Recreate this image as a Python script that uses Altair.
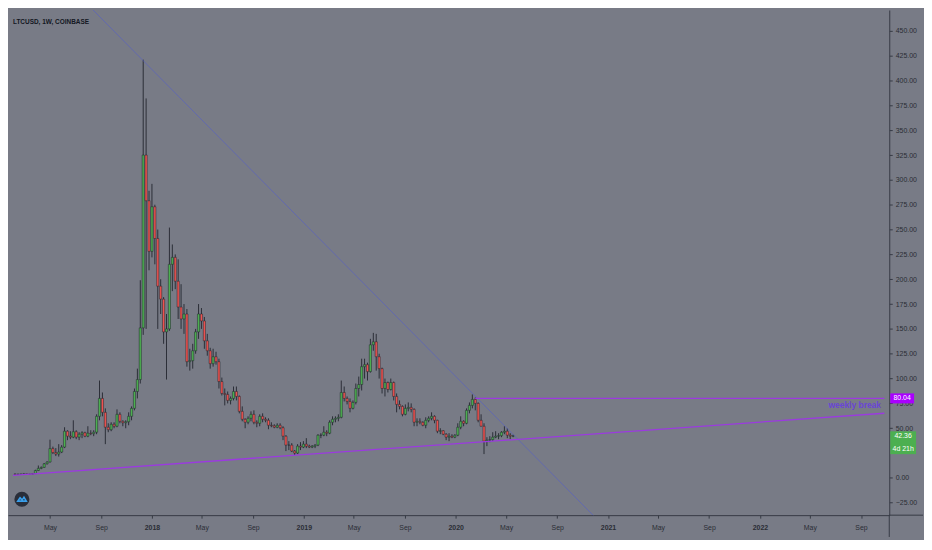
import altair as alt
import pandas as pd

# ---------------- data (weekly LTCUSD candles, Coinbase) ----------------
first_week = "2017-02-06"
opens = [3.9,3.8,3.7,3.9,4.0,3.8,3.8,4.3,7.4,9.6,10.6,14.2,
         16.0,29.5,25.5,24.0,26.0,31.0,47.0,42.0,41.0,46.5,41.0,44.0,
         45.5,42.0,45.0,44.5,46.0,62.0,80.0,66.0,51.0,48.5,54.0,52.0,
         64.0,57.0,55.5,56.5,62.0,70.0,87.0,99.0,151.0,325.0,279.0,228.0,
         273.0,241.0,193.0,180.0,147.0,150.0,215.0,222.0,198.0,172.0,160.0,165.0,
         117.0,118.0,128.0,147.0,165.0,158.0,138.0,128.0,115.0,122.0,117.0,97.0,
         85.0,84.0,78.0,80.0,87.0,82.0,67.0,59.0,56.0,60.0,64.0,56.0,
         55.0,62.0,59.0,58.0,53.0,52.5,51.0,53.0,50.5,42.0,33.0,33.0,
         27.0,25.0,32.0,31.0,34.0,32.0,31.0,32.0,33.0,43.0,43.0,46.0,
         45.0,56.0,59.0,60.0,61.0,86.0,80.0,77.0,70.0,76.0,90.0,94.0,
         112.0,114.0,107.0,134.0,137.0,122.0,110.0,90.0,96.0,89.0,96.0,82.0,
         74.0,72.0,64.0,70.0,71.0,69.0,56.0,57.0,56.0,53.0,58.0,60.0,
         62.0,58.0,47.0,47.5,44.0,41.0,42.0,41.0,43.0,51.0,57.0,55.0,
         68.0,73.0,79.0,75.0,58.0,52.0,37.0,38.0,38.5,41.0,42.0,42.5,
         46.0,47.0,43.0,42.0]
highs = [4.1,3.9,4.0,4.3,4.1,4.0,4.6,8.2,12.5,11.5,15.0,16.8,
         38.5,31.5,30.0,34.0,33.0,51.0,48.0,47.0,58.0,48.0,46.0,47.0,
         46.5,52.0,48.0,48.0,64.0,98.0,86.0,70.0,55.0,56.0,56.0,69.0,
         66.0,58.0,58.0,66.0,72.0,90.0,110.0,199.0,421.0,382.0,289.0,296.0,
         275.0,250.0,200.0,182.0,165.0,252.0,235.0,225.0,220.0,195.0,175.0,170.0,
         130.0,135.0,150.0,175.0,171.0,162.0,145.0,131.0,130.0,127.0,120.0,101.0,
         90.0,87.0,82.0,92.0,92.0,83.0,72.0,60.0,62.0,67.0,68.0,58.0,
         64.0,65.0,61.0,60.0,56.0,54.0,55.0,55.0,52.0,43.0,37.0,35.0,
         28.0,34.0,36.0,37.0,40.0,33.5,33.0,34.0,44.0,45.0,52.0,48.0,
         58.0,62.0,62.0,64.0,98.0,92.0,82.0,80.0,78.0,95.0,102.0,120.0,
         120.0,116.0,140.0,146.0,145.0,125.0,111.0,100.0,97.0,100.0,97.0,85.0,
         78.0,73.0,74.0,76.0,75.0,70.0,60.0,60.0,57.0,61.0,62.0,66.0,
         63.0,58.5,50.0,48.0,45.0,45.0,44.0,44.0,55.0,62.0,58.0,70.0,
         76.0,84.0,81.0,76.0,64.0,55.0,41.0,42.0,46.0,47.0,45.0,47.0,
         52.0,50.0,45.0,43.5]
lows = [3.7,3.6,3.6,3.8,3.7,3.6,3.7,4.1,7.0,8.8,10.2,13.5,
        15.5,24.0,22.0,21.5,25.0,30.0,38.0,39.0,40.0,39.0,38.0,40.0,
        41.0,41.0,43.0,42.0,44.0,58.0,62.0,34.0,46.0,47.0,50.0,51.0,
        55.0,52.0,50.0,53.0,58.0,68.0,80.0,95.0,144.0,150.0,209.0,222.0,
        215.0,150.0,165.0,135.0,99.0,148.0,188.0,190.0,160.0,150.0,145.0,112.0,
        108.0,110.0,125.0,140.0,150.0,130.0,123.0,110.0,112.0,114.0,90.0,83.0,
        73.0,75.0,74.0,78.0,78.0,65.0,57.0,50.0,54.0,57.0,54.0,51.0,
        52.0,56.0,56.0,49.0,51.0,50.0,50.0,49.0,38.0,27.0,28.0,26.0,
        23.0,24.0,28.0,30.0,30.0,30.0,30.0,30.0,32.0,40.0,42.0,42.0,
        44.0,53.0,56.0,57.0,60.0,77.0,74.0,66.0,69.0,74.0,82.0,88.0,
        100.0,98.0,106.0,128.0,108.0,100.0,85.0,82.0,86.0,88.0,78.0,66.0,
        69.0,62.0,63.0,67.0,66.0,52.0,52.0,54.0,52.0,50.0,56.0,58.0,
        55.0,45.0,44.0,43.0,38.0,37.0,40.0,40.0,42.0,49.0,52.0,54.0,
        65.0,70.0,68.0,56.0,52.0,24.0,32.0,36.0,37.0,40.0,39.0,41.0,
        44.0,40.0,39.0,41.0]
closes = [3.8,3.7,3.9,4.0,3.8,3.8,4.3,7.4,9.6,10.6,14.2,16.0,
          29.5,25.5,24.0,26.0,31.0,47.0,42.0,41.0,46.5,41.0,44.0,45.5,
          42.0,45.0,44.5,46.0,62.0,80.0,66.0,51.0,48.5,54.0,52.0,64.0,
          57.0,55.5,56.5,62.0,70.0,87.0,99.0,151.0,325.0,279.0,228.0,273.0,
          241.0,193.0,180.0,147.0,150.0,215.0,222.0,198.0,172.0,160.0,165.0,117.0,
          118.0,128.0,147.0,165.0,158.0,138.0,128.0,115.0,122.0,117.0,97.0,85.0,
          84.0,78.0,80.0,87.0,82.0,67.0,59.0,56.0,60.0,64.0,56.0,55.0,
          62.0,59.0,58.0,53.0,52.5,51.0,53.0,50.5,42.0,33.0,33.0,27.0,
          25.0,32.0,31.0,34.0,32.0,31.0,32.0,33.0,43.0,43.0,46.0,45.0,
          56.0,59.0,60.0,61.0,86.0,80.0,77.0,70.0,76.0,90.0,94.0,112.0,
          114.0,107.0,134.0,137.0,122.0,110.0,90.0,96.0,89.0,96.0,82.0,74.0,
          72.0,64.0,70.0,71.0,69.0,56.0,57.0,56.0,53.0,58.0,60.0,62.0,
          58.0,47.0,47.5,44.0,41.0,42.0,41.0,43.0,51.0,57.0,55.0,68.0,
          73.0,79.0,75.0,58.0,52.0,37.0,38.0,38.5,41.0,42.0,42.5,46.0,
          47.0,43.0,42.0,42.36]

# drawings on the chart
trend_dates = ["2017-07-01", "2020-12-31"]      # descending trend line
trend_vals = [489.0, -52.3]
support_dates = ["2017-02-01", "2022-10-27"]    # ascending support line
support_vals = [2.6, 65.1]
break_dates = ["2020-02-17", "2022-10-27"]      # horizontal "weekly break" level
break_vals = [80.04, 80.04]
break_label = ["weekly break"]
break_label_date = ["2022-10-19"]
break_label_val = [73.0]

last_price = [42.36]
last_price_text = ["42.36"]
countdown_text = ["4d 21h"]
level_text = ["80.04"]
title_text = ["LTCUSD, 1W, COINBASE"]

# 25.00 sits under the last-price tag (hidden in the reference as well)
y_ticks = [-25, 0] + list(range(50, 451, 25))
tick_months = [(2017, 5), (2017, 9), (2018, 1), (2018, 5), (2018, 9), (2019, 1),
               (2019, 5), (2019, 9), (2020, 1), (2020, 5), (2020, 9), (2021, 1),
               (2021, 5), (2021, 9), (2022, 1), (2022, 5), (2022, 9)]

# ---------------- styling ----------------
W, H = 888, 509
BG = "#787b86"
GREEN = "#4caf50"
RED = "#ef5350"
EDGE = "#23262f"
WICK = "#2b2e37"
AX = "#363a45"
TXT = "#2a2d35"
PURPLE = "#9b3ae0"
PURPLE_BOX = "#aa00ff"
TREND = "#5a62c0"
FONT = "Liberation Sans"

dates = pd.date_range(first_week, periods=len(closes), freq="7D")
candles = pd.DataFrame({"date": dates, "open": opens, "high": highs,
                        "low": lows, "close": closes})

xscale = alt.Scale(domain=[alt.DateTime(year=2017, month=2, date=1),
                           alt.DateTime(year=2022, month=10, date=27)])
yscale = alt.Scale(domain=[-37.5, 471], nice=False, zero=False)

x_axis = alt.Axis(
    values=[alt.DateTime(year=y, month=m, date=1) for y, m in tick_months],
    labelExpr="month(datum.value) == 0 ? timeFormat(datum.value, '%Y') : timeFormat(datum.value, '%b')",
    labelFontWeight={"condition": {"test": "month(datum.value) == 0", "value": "bold"}, "value": "normal"},
    title=None, grid=False, tickSize=3, tickColor=AX, domainColor=AX,
    labelColor=TXT, labelFontSize=7, labelFont=FONT, labelPadding=5,
    labelFlush=False, labelOverlap=False)

y_axis = alt.Axis(
    orient="right", values=y_ticks, format=".2f", title=None, grid=False,
    tickSize=3, tickColor=AX, domainColor=AX, labelColor=TXT,
    labelFontSize=7, labelFont=FONT, labelPadding=3, labelOverlap=False)


def X(field):
    return alt.X(field, scale=xscale, axis=x_axis, title=None)


def Y(field):
    return alt.Y(field, scale=yscale, axis=y_axis, title=None)


wicks = alt.Chart(candles).mark_rule(color=WICK, strokeWidth=1).encode(
    x=X("date:T"), y=Y("low:Q"), y2="high:Q")

bodies = alt.Chart(candles).mark_bar(size=2.2, stroke=EDGE, strokeWidth=0.5).encode(
    x=X("date:T"), y=Y("open:Q"), y2="close:Q",
    color=alt.condition("datum.close >= datum.open", alt.value(GREEN), alt.value(RED)))


def line_layer(d, v, color, width, opacity=1.0):
    df = pd.DataFrame({"date": pd.to_datetime(d), "v": v})
    return alt.Chart(df).mark_line(clip=True, color=color, strokeWidth=width,
                                   opacity=opacity).encode(
        x=X("date:T"), y=Y("v:Q"))


trend = line_layer(trend_dates, trend_vals, TREND, 1, 0.7)
support = line_layer(support_dates, support_vals, PURPLE, 1.3)
brk = line_layer(break_dates, break_vals, PURPLE, 1.3)

brk_txt = alt.Chart(pd.DataFrame({"date": pd.to_datetime(break_label_date),
                                  "v": break_label_val, "t": break_label})).mark_text(
    align="right", baseline="middle", color="#6a45d6", fontSize=8.5,
    fontWeight="bold", font=FONT).encode(
    x=X("date:T"), y=Y("v:Q"), text="t:N")

# price tags on the right axis
lvl_df = pd.DataFrame({"v": [break_vals[0]], "t": level_text})
lvl_box = alt.Chart(lvl_df).mark_point(
    shape="M-1,-0.42L1,-0.42L1,0.42L-1,0.42Z", filled=True, size=576,
    color=PURPLE_BOX, opacity=1, strokeWidth=0).encode(
    x=alt.value(W + 13), y=Y("v:Q"))
lvl_txt = alt.Chart(lvl_df).mark_text(color="white", fontSize=7, font=FONT,
                                      baseline="middle").encode(
    x=alt.value(W + 13), y=Y("v:Q"), text="t:N")

lp_df = pd.DataFrame({"v": last_price, "t": last_price_text, "c": countdown_text})
lp_box = alt.Chart(lp_df).mark_point(
    shape="M-1,-0.35L1,-0.35L1,1.42L-1,1.42Z", filled=True, size=676,
    color=GREEN, opacity=1, strokeWidth=0).encode(
    x=alt.value(W + 14), y=Y("v:Q"))
lp_txt = alt.Chart(lp_df).mark_text(color="white", fontSize=7, font=FONT,
                                    baseline="middle").encode(
    x=alt.value(W + 14), y=Y("v:Q"), text="t:N")
cd_txt = alt.Chart(lp_df).mark_text(color="white", fontSize=7, font=FONT,
                                    baseline="middle", dy=13).encode(
    x=alt.value(W + 14), y=Y("v:Q"), text="c:N")

title = alt.Chart(pd.DataFrame({"t": title_text})).mark_text(
    align="left", baseline="middle", fontSize=6.5, fontWeight="bold",
    color="#131722", font=FONT).encode(
    x=alt.value(5), y=alt.value(12), text="t:N")

one = pd.DataFrame({"k": [0]})
logo_bg = alt.Chart(one).mark_point(shape="circle", filled=True, size=230,
                                    color="#2a2e39", opacity=1).encode(
    x=alt.value(14), y=alt.value(H - 16))
logo_icon = alt.Chart(one).mark_point(
    shape="M-0.8,0.35L-0.35,-0.3L0.05,0.15L0.4,-0.4L0.85,0.35Z", filled=False,
    size=110, color="#3aa0ec", strokeWidth=1.6, opacity=1).encode(
    x=alt.value(14), y=alt.value(H - 16))

ext_h = alt.Chart(one).mark_rule(color=AX, strokeWidth=1).encode(
    x=alt.value(W), x2=alt.value(W + 34), y=alt.value(H))
ext_v = alt.Chart(one).mark_rule(color=AX, strokeWidth=1).encode(
    x=alt.value(W), y=alt.value(H), y2=alt.value(H + 22))

chart = alt.layer(
    wicks, bodies, trend, support, brk, brk_txt,
    lvl_box, lvl_txt, lp_box, lp_txt, cd_txt,
    title, logo_bg, logo_icon, ext_h, ext_v
).properties(
    width=W, height=H, padding=0, background=BG
).configure_view(strokeWidth=0, fill=BG)

chart.save("out.html", embed_options={"renderer": "svg", "actions": False})
